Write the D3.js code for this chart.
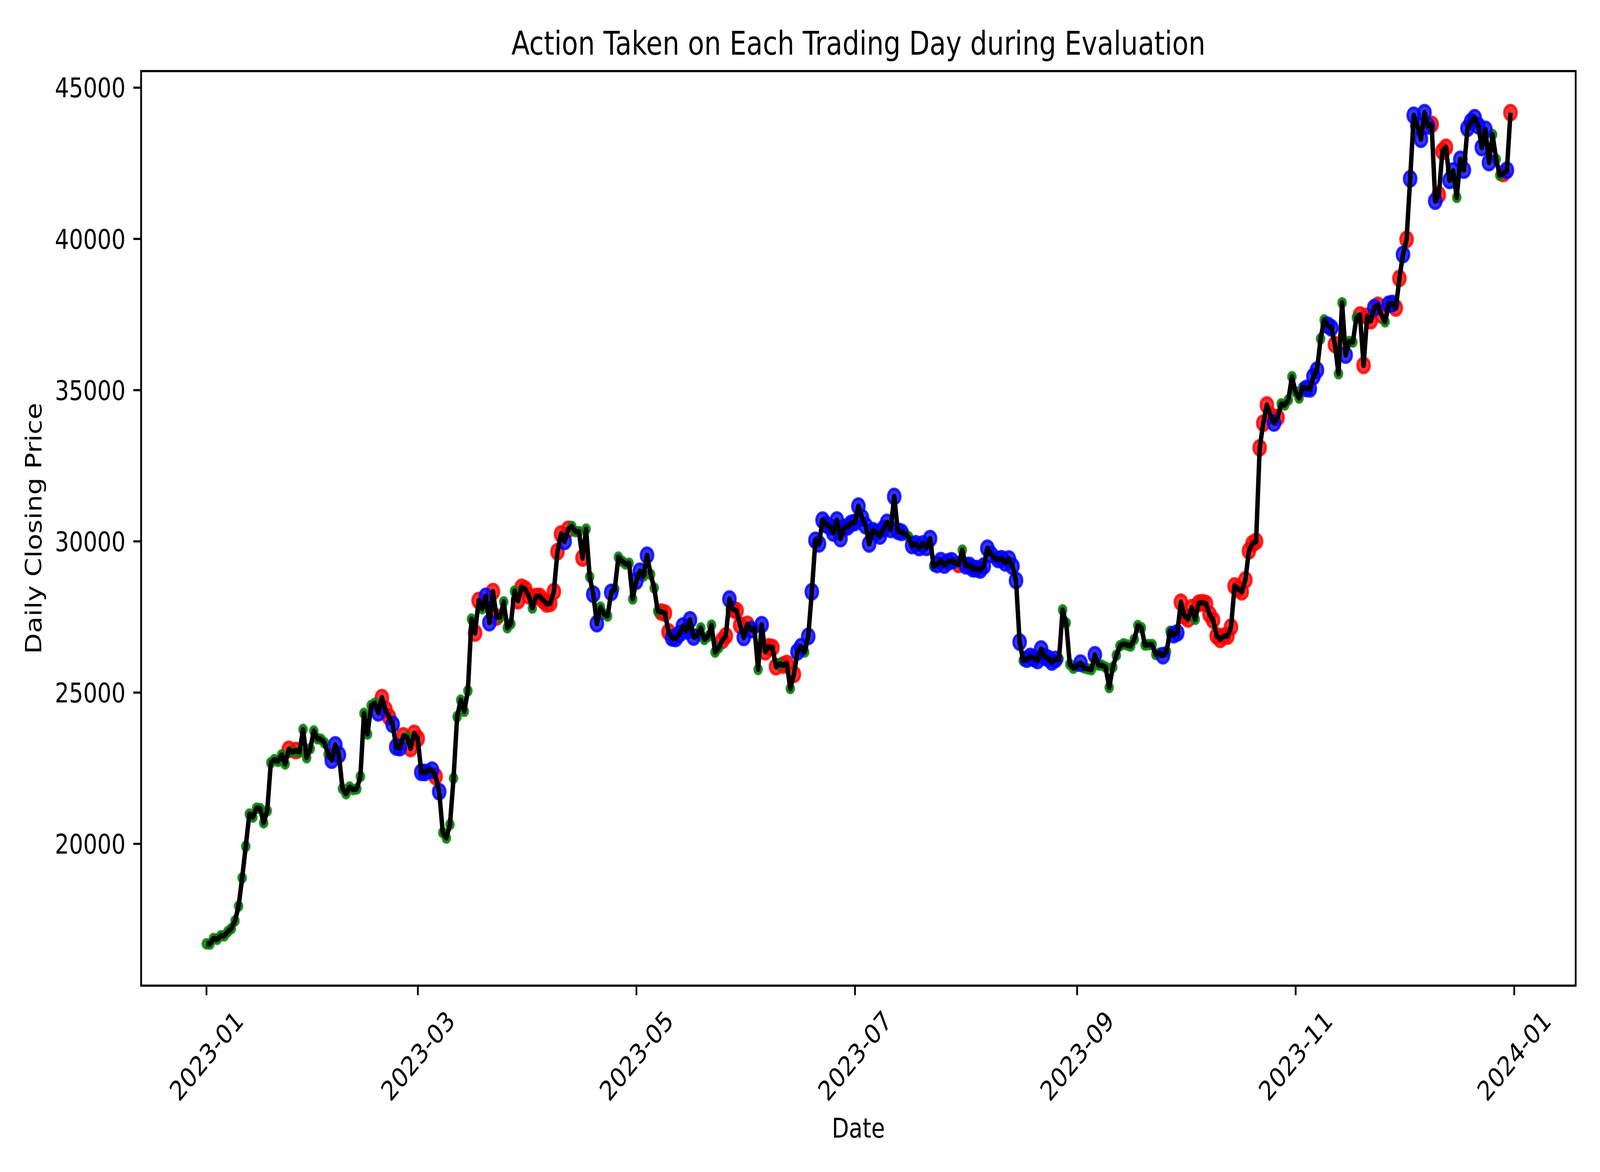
<!DOCTYPE html>
<html>
<head>
<meta charset="utf-8">
<script src="https://cdn.jsdelivr.net/npm/d3@7"></script>
<style>
  html, body { margin: 0; padding: 0; background: #fff; overflow: hidden; }
  svg { display: block; }
  text { font-family: "DejaVu Sans", sans-serif; fill: #000; }
</style>
</head>
<body>
<div id="chart"></div>
<script>
// daily closing price, one array per month (2023-01-01 .. 2023-12-31)
const closeJan = [16688, 16680, 16863, 16836, 16951, 16955, 17091, 17196, 17446, 17934, 18869, 19909, 20976, 20880, 21169, 21161, 20688, 21086, 22676, 22777, 22720, 22934, 22636, 23117, 23032, 23078, 23031, 23774, 22841, 23139, 23723];
const closeFeb = [23471, 23449, 23331, 22955, 22760, 23264, 22939, 21819, 21651, 21870, 21788, 21809, 22220, 24307, 23623, 24565, 24641, 24327, 24829, 24436, 24188, 23947, 23198, 23175, 23562, 23522, 23147, 23646];
const closeMar = [23475, 22362, 22353, 22435, 22429, 22219, 21718, 20363, 20187, 20632, 22163, 24197, 24746, 24375, 25052, 27423, 26965, 28038, 27767, 28175, 27307, 28333, 27493, 27494, 27994, 27139, 27268, 28348, 28033, 28478, 28411];
const closeApr = [28199, 27790, 28168, 28177, 28044, 27925, 27947, 28333, 29653, 30236, 29993, 30391, 30485, 30318, 30315, 29445, 30397, 28822, 28246, 27276, 27817, 27591, 27525, 28307, 28422, 29473, 29340, 29248, 29268, 28091];
const closeMay = [28680, 29006, 28847, 29534, 28904, 28454, 27695, 27658, 27621, 27000, 26805, 26784, 26931, 27192, 27036, 27399, 26832, 26890, 27130, 26753, 26851, 27225, 26334, 26476, 26719, 26868, 28085, 27745, 27702, 27220, 26819];
const closeJun = [27250, 27075, 27119, 25760, 27238, 26346, 26508, 26480, 25851, 25941, 25903, 25954, 25128, 25599, 26345, 26511, 26336, 26852, 28328, 30028, 29912, 30695, 30548, 30480, 30271, 30697, 30087, 30446, 30477, 30590];
const closeJul = [30620, 31156, 30777, 30514, 29910, 30346, 30293, 30172, 30415, 30620, 30391, 31476, 30334, 30295, 30249, 30146, 29857, 29914, 29792, 29908, 29796, 30084, 29176, 29228, 29354, 29211, 29314, 29352, 29281, 29233, 29705];
const closeAug = [29187, 29198, 29088, 29092, 29048, 29176, 29766, 29562, 29430, 29398, 29416, 29284, 29409, 29170, 28701, 26664, 26050, 26100, 26189, 26125, 26057, 26432, 26181, 26120, 26007, 26090, 26107, 27728, 27298, 25931, 25801];
const closeSep = [25868, 25969, 25812, 25780, 25753, 26241, 25906, 25895, 25833, 25163, 25833, 26228, 26539, 26608, 26568, 26534, 26754, 27211, 27133, 26568, 26580, 26579, 26256, 26298, 26217, 26352, 27021, 26911, 26967, 27983];
const closeOct = [27530, 27429, 27799, 27415, 27946, 27968, 27935, 27583, 27391, 26873, 26756, 26862, 26861, 27159, 28519, 28415, 28328, 28719, 29682, 29918, 29993, 33086, 33901, 34502, 34156, 33909, 34089, 34538, 34502, 34667, 35437];
const closeNov = [34938, 34732, 35082, 35049, 35038, 35443, 35655, 36693, 37313, 37138, 37054, 36502, 35537, 37880, 36154, 36596, 36585, 37386, 37476, 35813, 37433, 37289, 37721, 37796, 37480, 37254, 37832, 37858, 37712, 38688];
const closeDec = [39476, 39978, 41980, 44080, 43746, 43292, 44167, 43725, 43779, 41243, 41450, 42891, 43023, 41929, 42240, 41365, 42623, 42270, 43652, 43869, 43997, 43740, 43017, 43613, 42520, 43443, 42627, 42099, 42156, 42265, 44167];

// action per day: b = blue, r = red, g = green (grouped by 5 days)
const actJan = "ggggg ggggg ggggg ggggg gggrg rgggg g";
const actFeb = "ggggb bbggg ggggg ggbrr rbbbr grr";
const actMar = "rbbgb rbggg ggggg grrgb brrgg gggrr r";
const actApr = "rgrrr rrrrr brggg rggbb gggbg ggggg";
const actMay = "bbgbg ggrrr bbbbb bbggg ggggr rbrrr b";
const actJun = "rbggb rrrrg rrgrb bgbbb bbbbb bbbbb";
const actJul = "bbbbb bbbbb bbbbg gbbbb bbgbb bbbgr g";
const actAug = "bbbbb bbbgb bbbbb bgbbb bbbbb bgggg g";
const actSep = "gbggg bgggg ggggg ggggg ggggb ggbbr";
const actOct = "rrrgr rrrrr rrrrr rrrrr rrrrr brggg g";
const actNov = "gggbb bbggb brggb gggrr rrbrr gbbrr";
const actDec = "brbbb bbbrb rrrbb gbbbb bbbbb gggrb r";

const startDate = "2023-01-01";
const dateTicks = ["2023-01-01", "2023-03-01", "2023-05-01", "2023-07-01", "2023-09-01", "2023-11-01", "2024-01-01"];
const priceTicks = [20000, 25000, 30000, 35000, 40000, 45000];

const W = 5000, H = 3000;
const pt = 500 / 72;                       // figure drawn at 500 dpi
const margin = { top: 182, right: 76, bottom: 477, left: 441 };
const colors = { b: "blue", r: "red", g: "green" };
const radius = { b: 19.5, r: 19.5, g: 11.5 };
const drawOrder = ["r", "g", "b"];

const closes = [].concat(closeJan, closeFeb, closeMar, closeApr, closeMay, closeJun,
                         closeJul, closeAug, closeSep, closeOct, closeNov, closeDec);
const actions = [actJan, actFeb, actMar, actApr, actMay, actJun,
                 actJul, actAug, actSep, actOct, actNov, actDec].join("").replace(/\s/g, "").split("");
if (closes.length !== actions.length) console.warn("length mismatch", closes.length, actions.length);

const parse = d3.utcParse("%Y-%m-%d");
const t0 = parse(startDate);
const data = closes.map((c, i) => ({ date: d3.utcDay.offset(t0, i), close: c, action: actions[i] }));

// matplotlib-like 5% margins
const [dMin, dMax] = d3.extent(data, d => d.date);
const dPad = (dMax - dMin) * 0.05;
const [pMin, pMax] = d3.extent(data, d => d.close);
const pPad = (pMax - pMin) * 0.05;

const x = d3.scaleUtc()
    .domain([new Date(+dMin - dPad), new Date(+dMax + dPad)])
    .range([margin.left, W - margin.right]);
const y = d3.scaleLinear()
    .domain([pMin - pPad, pMax + pPad])
    .range([H - margin.bottom, margin.top]);

// fit the 5000x3000 drawing into whatever viewport the page gets
const vw = window.innerWidth || W, vh = window.innerHeight || H;
const svg = d3.select("#chart").append("svg")
    .attr("width", vw)
    .attr("height", vh)
    .attr("viewBox", `0 0 ${W} ${H}`)
    .attr("preserveAspectRatio", "none");
svg.append("rect").attr("width", W).attr("height", H).attr("fill", "#fff");

// scatter of actions
drawOrder.forEach(a => {
    svg.append("g")
        .selectAll("circle")
        .data(data.filter(d => d.action === a))
        .join("circle")
            .attr("cx", d => x(d.date))
            .attr("cy", d => y(d.close))
            .attr("r", radius[a])
            .attr("fill", colors[a])
            .attr("fill-opacity", 0.8)
            .attr("stroke", colors[a])
            .attr("stroke-opacity", 0.8)
            .attr("stroke-width", pt);
});

// price line on top
svg.append("path")
    .datum(data)
    .attr("fill", "none")
    .attr("stroke", "#000")
    .attr("stroke-width", 2 * pt)
    .attr("stroke-linejoin", "round")
    .attr("d", d3.line().x(d => x(d.date)).y(d => y(d.close)));

const tickLen = 3.5 * pt, tickPad = 3.5 * pt, fs = 10 * pt;

// x axis
const xAxis = d3.axisBottom(x)
    .tickValues(dateTicks.map(parse))
    .tickFormat(d3.utcFormat("%Y-%m"))
    .tickSize(tickLen);
const gx = svg.append("g")
    .attr("transform", `translate(0,${H - margin.bottom})`)
    .call(xAxis)
    .call(g => g.select(".domain").remove());
gx.selectAll(".tick line").attr("stroke", "#000").attr("stroke-width", 0.8 * pt);
const labelBox = 262; // bbox size of a 45 degree rotated label
gx.selectAll(".tick text")
    .attr("font-size", fs)
    .attr("font-family", "DejaVu Sans")
    .attr("text-anchor", "middle")
    .attr("dominant-baseline", "central")
    .attr("y", null).attr("dy", null)
    .attr("transform", `translate(0,${tickLen + tickPad + labelBox / 2}) rotate(-45)`);

// y axis
const yAxis = d3.axisLeft(y)
    .tickValues(priceTicks)
    .tickFormat(d3.format("d"))
    .tickSize(tickLen)
    .tickPadding(tickPad);
const gy = svg.append("g")
    .attr("transform", `translate(${margin.left},0)`)
    .call(yAxis)
    .call(g => g.select(".domain").remove());
gy.selectAll(".tick line").attr("stroke", "#000").attr("stroke-width", 0.8 * pt);
gy.selectAll(".tick text")
    .attr("font-size", fs)
    .attr("font-family", "DejaVu Sans")
    .attr("dy", "0.36em");

// frame
svg.append("rect")
    .attr("x", margin.left)
    .attr("y", margin.top)
    .attr("width", W - margin.left - margin.right)
    .attr("height", H - margin.top - margin.bottom)
    .attr("fill", "none")
    .attr("stroke", "#000")
    .attr("stroke-width", 0.8 * pt);

// titles
const midX = (margin.left + W - margin.right) / 2;
svg.append("text")
    .attr("x", midX)
    .attr("y", margin.top - 6 * pt)
    .attr("text-anchor", "middle")
    .attr("font-size", 12 * pt)
    .text("Action Taken on Each Trading Day during Evaluation");

svg.append("text")
    .attr("x", midX)
    .attr("y", 2912)
    .attr("text-anchor", "middle")
    .attr("font-size", fs)
    .text("Date");

svg.append("text")
    .attr("transform", `translate(130,${(margin.top + H - margin.bottom) / 2}) rotate(-90)`)
    .attr("text-anchor", "middle")
    .attr("font-size", fs)
    .text("Daily Closing Price");
</script>
</body>
</html>
